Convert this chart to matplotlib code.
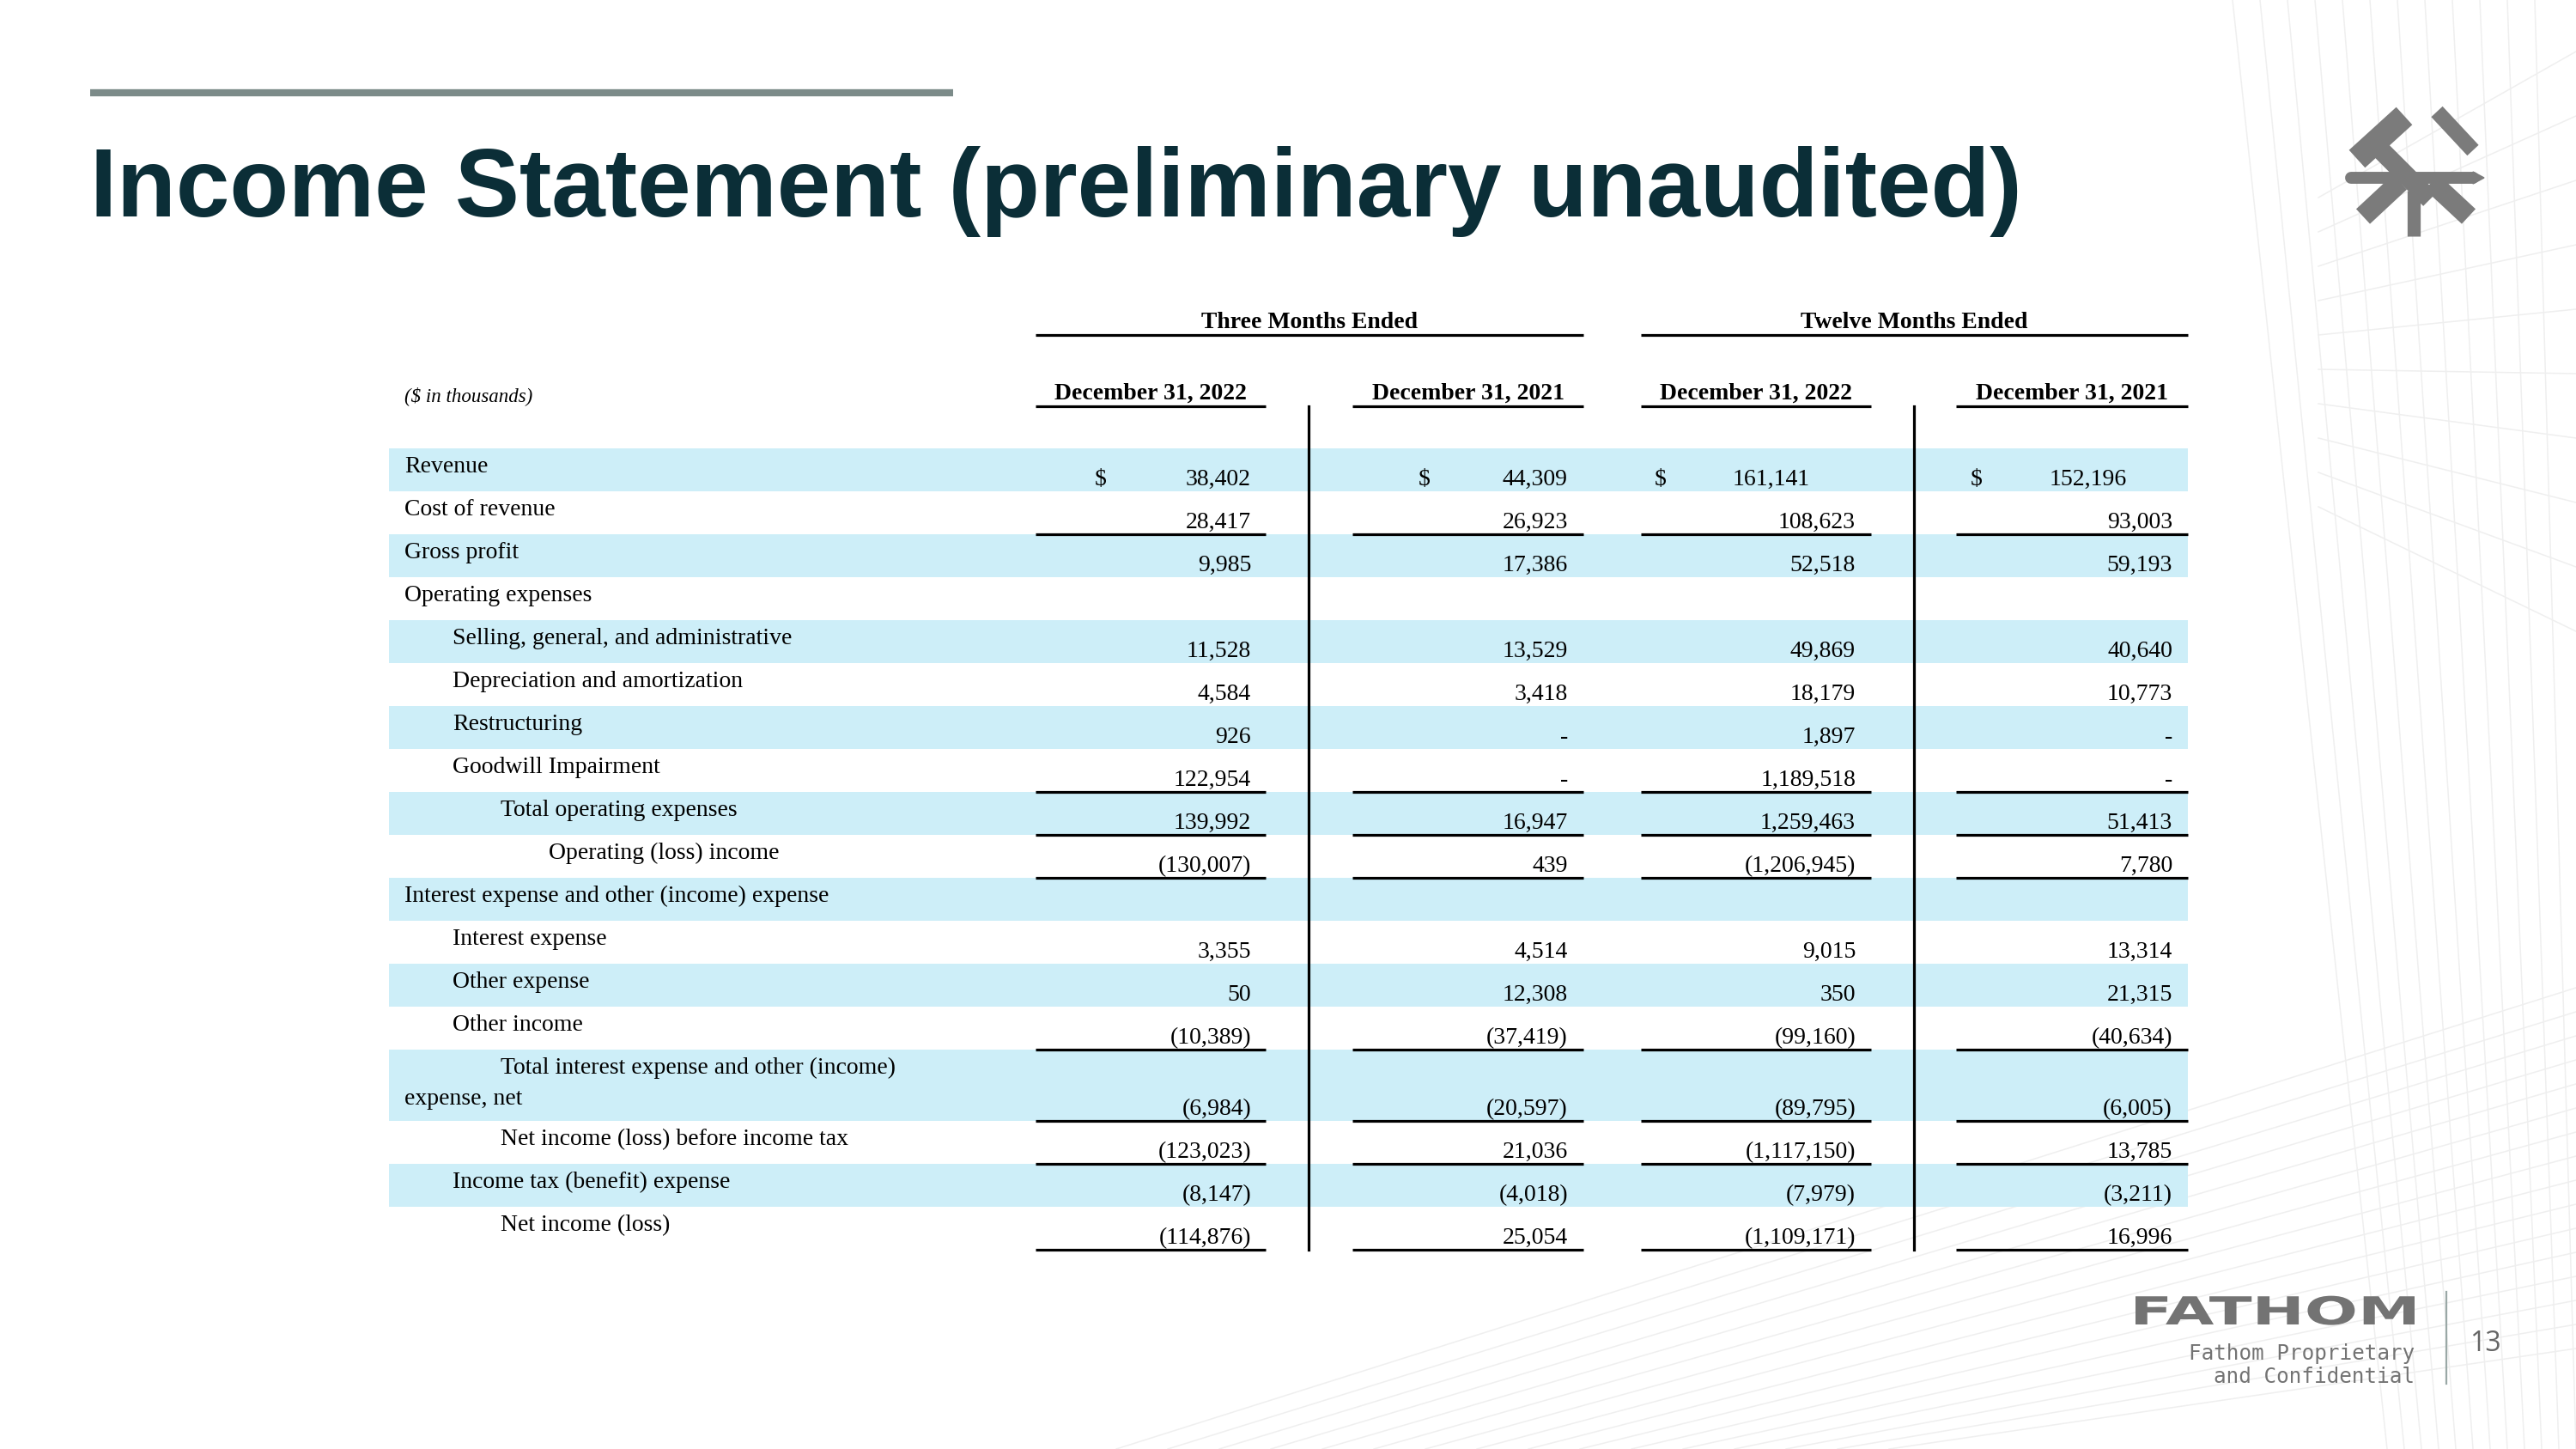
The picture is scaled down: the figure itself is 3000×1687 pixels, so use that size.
import numpy as np
import matplotlib.pyplot as plt
from matplotlib.patches import Rectangle, Polygon, PathPatch
from matplotlib.textpath import TextPath
from matplotlib.font_manager import FontProperties
from matplotlib.transforms import Affine2D

# ---- data -------------------------------------------------------------
row_labels = [
    "Revenue", "Cost of revenue", "Gross profit", "Operating expenses",
    "Selling, general, and administrative", "Depreciation and amortization",
    "Restructuring", "Goodwill Impairment", "Total operating expenses",
    "Operating (loss) income", "Interest expense and other (income) expense",
    "Interest expense", "Other expense", "Other income",
    "Total interest expense and other (income)",
    "Net income (loss) before income tax", "Income tax (benefit) expense",
    "Net income (loss)",
]
row_indent = [0, 0, 0, 0, 1, 1, 1, 1, 2, 3, 0, 1, 1, 1, 2, 2, 1, 2]
underlined = [False, True, False, False, False, False, False, True, True, True,
              False, False, False, True, True, True, False, True]
dollar_rows = [0]

q4_2022 = ["38,402", "28,417", "9,985", "", "11,528", "4,584", "926", "122,954",
           "139,992", "(130,007)", "", "3,355", "50", "(10,389)", "(6,984)",
           "(123,023)", "(8,147)", "(114,876)"]
q4_2021 = ["44,309", "26,923", "17,386", "", "13,529", "3,418", "-", "-",
           "16,947", "439", "", "4,514", "12,308", "(37,419)", "(20,597)",
           "21,036", "(4,018)", "25,054"]
fy_2022 = ["161,141", "108,623", "52,518", "", "49,869", "18,179", "1,897",
           "1,189,518", "1,259,463", "(1,206,945)", "", "9,015", "350",
           "(99,160)", "(89,795)", "(1,117,150)", "(7,979)", "(1,109,171)"]
fy_2021 = ["152,196", "93,003", "59,193", "", "40,640", "10,773", "-", "-",
           "51,413", "7,780", "", "13,314", "21,315", "(40,634)", "(6,005)",
           "13,785", "(3,211)", "16,996"]
columns = [q4_2022, q4_2021, fy_2022, fy_2021]
col_headers = ["December 31, 2022", "December 31, 2021",
               "December 31, 2022", "December 31, 2021"]
group_headers = ["Three Months Ended", "Twelve Months Ended"]

# ---- layout (pixels of a 3000x1687 slide) -----------------------------
W, H = 3000, 1687
col_left = [1206, 1575, 1911, 2278]
col_right = [1474, 1844, 2179, 2548]
num_right = [1457, 1826, 2161, 2530]
dollar_x = [1275, 1652, 1927, 2295]
vlines_x = [1524, 2229]
label_x = 471
indent = 56
shade_x0, shade_x1 = 453, 2548
row_h = 50
top0 = 522
heights = [1.66 if i == 14 else 1 for i in range(len(row_labels))]

serif = "Liberation Serif"
fs = 20
navy = "#0b2e37"
shade = "#cdeef8"
grey = "#737373"

fig = plt.figure(figsize=(30, 16.87), dpi=100)
ax = fig.add_axes([0, 0, 1, 1])
ax.set_xlim(0, W)
ax.set_ylim(H, 0)
ax.axis("off")

# faint wireframe background on the right
bg = "#efefef"
for i in range(12):
    ax.plot([2600 + i * 32, 2780 + i * 20], [0, H], color=bg, lw=1.1, zorder=0)
for i in range(16):
    ax.plot([1300 + i * 60, W], [H, 1150 + i * 28], color=bg, lw=1.1, zorder=0)
for i in range(10):
    ax.plot([2700, W], [230 + i * 40, 60 + i * 75], color=bg, lw=1.1, zorder=0)

# title block
ax.plot([105, 1110], [108, 108], color="#7c8b89", lw=6, solid_capstyle="butt")
ax.text(105, 252, "Income Statement (preliminary unaudited)", fontsize=81,
        fontweight="bold", color=navy, family="Liberation Sans", va="baseline")

# icon (rough hammer / pencil / tools)
ic = "#7b7b7b"
ax.plot([2738, 2880], [207, 207], color=ic, lw=10, solid_capstyle="round")
ax.add_patch(Polygon([[2880, 200], [2893, 207], [2880, 214]], color=ic))
ax.plot([2752, 2795], [252, 212], color=ic, lw=17, solid_capstyle="butt")
ax.plot([2875, 2832], [252, 212], color=ic, lw=17, solid_capstyle="butt")
ax.plot([2811, 2811], [222, 275], color=ic, lw=11, solid_capstyle="butt")
ax.plot([2758, 2830], [160, 232], color=ic, lw=16, solid_capstyle="butt")
ax.plot([2745, 2800], [185, 135], color=ic, lw=20, solid_capstyle="butt")
ax.plot([2838, 2880], [130, 175], color=ic, lw=13, solid_capstyle="butt")

# header rows
for g, hdr in enumerate(group_headers):
    x0, x1 = col_left[2 * g], col_right[2 * g + 1]
    ax.text((x0 + x1) / 2, 382, hdr, fontsize=fs, fontweight="bold",
            family=serif, ha="center", va="baseline")
    ax.plot([x0, x1], [390, 390], color="black", lw=2.3, solid_capstyle="butt")
for c, hdr in enumerate(col_headers):
    ax.text((col_left[c] + col_right[c]) / 2, 465, hdr, fontsize=fs,
            fontweight="bold", family=serif, ha="center", va="baseline")
    ax.plot([col_left[c], col_right[c]], [473, 473], color="black", lw=2.3,
            solid_capstyle="butt")
ax.text(label_x, 467, "($ in thousands)", fontsize=16.5, style="italic",
        family=serif, va="baseline")

# body rows
y = top0
for i, label in enumerate(row_labels):
    h = heights[i] * row_h
    if i % 2 == 0:
        ax.add_patch(Rectangle((shade_x0, y), shade_x1 - shade_x0, h,
                               color=shade, lw=0, zorder=1))
    lx = label_x + indent * row_indent[i]
    ax.text(lx, y + 28, label, fontsize=fs, family=serif, va="baseline", zorder=3)
    if heights[i] > 1:
        ax.text(label_x, y + 64, "expense, net", fontsize=fs, family=serif,
                va="baseline", zorder=3)
    for c, col in enumerate(columns):
        val = col[i]
        if val:
            xr = num_right[c]
            if i in dollar_rows:
                ax.text(dollar_x[c], y + h - 7, "$", fontsize=fs, family=serif,
                        va="baseline", zorder=3)
                if c >= 2:
                    xr -= 53
            ax.text(xr, y + h - 7, val, fontsize=fs, family=serif,
                    ha="right", va="baseline", zorder=3)
        if underlined[i]:
            ax.plot([col_left[c], col_right[c]], [y + h, y + h], color="black",
                    lw=2.3, solid_capstyle="butt", zorder=4)
    y += h

for vx in vlines_x:
    ax.plot([vx, vx], [473, y], color="black", lw=2.3, zorder=4)

# footer: wide "FATHOM" wordmark, stretched to the logo's box
tp = TextPath((0, 0), "FATHOM", size=100,
              prop=FontProperties(family="DejaVu Sans", weight="bold"))
bb = tp.get_extents()
sx = (2812 - 2487) / bb.width
sy = 34 / bb.height
tr = Affine2D().translate(-bb.x0, 0).scale(sx, -sy).translate(2487, 1542)
ax.add_patch(PathPatch(tr.transform_path(tp), color=grey, lw=0))
ax.text(2812, 1583, "Fathom Proprietary", fontsize=17.5, color=grey,
        family="DejaVu Sans Mono", ha="right", va="baseline")
ax.text(2812, 1610, "and Confidential", fontsize=17.5, color=grey,
        family="DejaVu Sans Mono", ha="right", va="baseline")
ax.plot([2849, 2849], [1504, 1611], color="#9aa8a6", lw=1.6)
ax.text(2876, 1573, "13", fontsize=23, color="#666666", family="Open Sans",
        va="baseline")

fig.savefig("out.png", dpi=100)
